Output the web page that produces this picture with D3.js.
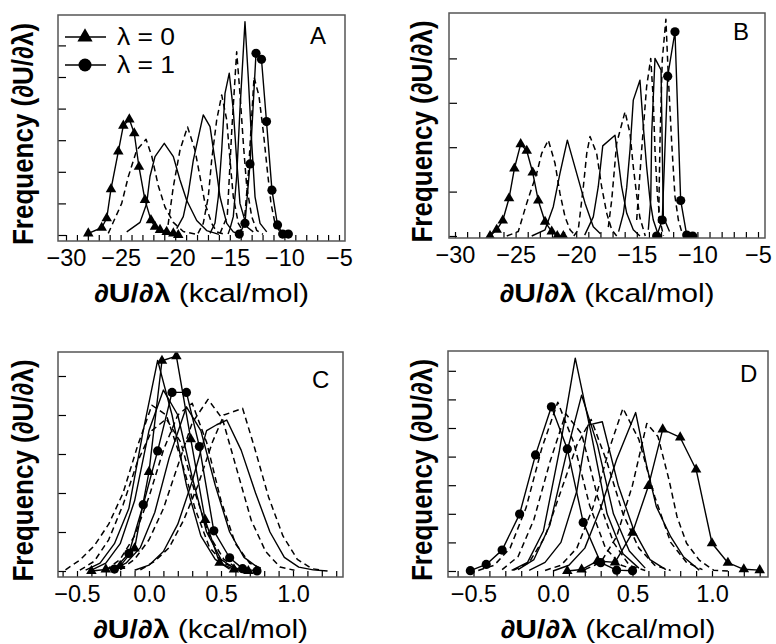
<!DOCTYPE html>
<html>
<head>
<meta charset="utf-8">
<script src="https://cdn.jsdelivr.net/npm/d3@7"></script>
<style>
  body { margin: 0; background: #fff; }
  text { font-family: 'Liberation Sans', Arial, Helvetica, sans-serif; fill: #000; }
</style>
</head>
<body>
<svg id="chart" width="776" height="644"></svg>
<script>
// Coupling parameter of each window; first is drawn with triangles, last with circles.
const lambdas = [0, 0.1, 0.2, 0.3, 0.4, 0.5, 0.6, 0.7, 0.8, 0.9, 1.0];

// Histograms of dU/dlambda per window: [dU/dlambda (kcal/mol), frequency (tick units)]
const histA = [
  [[-27.96,0.05],[-26.73,0.23],[-26.27,0.53],[-25.88,1.45],[-25.21,2.64],[-24.75,3.46],[-24.2,3.66],[-23.75,3.22],[-23.32,2.16],[-22.77,1.11],[-22.22,0.47],[-21.85,0.26],[-21.39,0.16],[-20.78,0.1],[-20.17,0.05],[-19.72,0.0]],
  [[-26.13,0.05],[-24.9,1.0],[-24.29,1.85],[-23.53,2.68],[-22.67,3.03],[-22.15,2.5],[-21.55,1.56],[-20.93,0.88],[-20.17,0.4],[-19.26,0.11],[-18.05,0.02]],
  [[-24.44,0.1],[-23.22,0.4],[-22.61,1.0],[-22.31,1.85],[-21.85,2.48],[-21.0,2.9],[-20.17,2.48],[-19.56,1.74],[-18.95,1.1],[-18.03,0.46],[-17.12,0.14],[-15.99,0.02]],
  [[-21.12,0.05],[-20.66,0.3],[-20.17,1.53],[-19.56,2.69],[-18.87,3.42],[-18.19,2.69],[-17.73,1.85],[-17.27,1.0],[-16.66,0.37],[-16.2,0.1],[-15.44,0.02]],
  [[-19.86,0.2],[-19.26,0.58],[-18.8,1.32],[-18.34,2.37],[-17.43,3.8],[-16.81,3.43],[-16.36,2.37],[-15.9,1.21],[-15.28,0.37],[-14.68,0.1],[-14.07,0.02]],
  [[-17.91,0.05],[-17.43,0.37],[-16.97,1.21],[-16.66,2.37],[-16.2,3.64],[-15.74,4.43],[-15.28,3.64],[-14.98,2.37],[-14.68,1.21],[-14.22,0.37],[-13.76,0.1]],
  [[-16.81,0.05],[-16.36,0.37],[-16.05,1.21],[-15.74,2.69],[-15.44,4.48],[-15.05,5.12],[-14.68,3.96],[-14.37,2.37],[-14.07,1.0],[-13.45,0.26],[-12.85,0.1]],
  [[-15.9,0.05],[-15.23,0.6],[-14.83,3.25],[-14.37,5.8],[-14.07,4.48],[-13.76,2.9],[-13.45,1.53],[-12.99,0.58],[-12.54,0.15],[-11.96,0.02]],
  [[-15.16,0.03],[-14.98,0.2],[-14.68,0.58],[-14.37,1.85],[-14.07,3.96],[-13.61,6.75],[-13.31,5.0],[-12.99,2.9],[-12.69,1.21],[-12.23,0.37],[-11.62,0.1]],
  [[-14.25,0.03],[-13.7,0.3],[-13.29,2.0],[-12.78,5.0],[-12.33,4.4],[-11.91,3.2],[-11.55,2.0],[-11.23,1.0],[-10.86,0.37],[-10.4,0.1],[-9.85,0.02]],
  [[-14.13,0.03],[-13.61,0.37],[-13.15,2.25],[-12.6,5.75],[-12.1,5.56],[-11.64,3.59],[-11.14,1.42],[-10.63,0.32],[-10.16,0.03],[-9.64,0.03]]
];

const histB = [
  [[-27.11,0.0],[-26.56,0.14],[-26.06,0.35],[-25.54,0.85],[-25.1,1.52],[-24.58,2.07],[-24.08,1.92],[-23.59,1.43],[-23.13,0.8],[-22.57,0.32],[-22.02,0.1],[-21.56,0.0],[-21.06,0.0]],
  [[-25.73,0.0],[-24.78,0.1],[-24.08,0.74],[-23.26,1.41],[-22.85,1.86],[-22.3,2.16],[-21.75,1.64],[-21.34,0.96],[-20.92,0.43],[-20.51,0.14],[-20.2,0.05]],
  [[-23.67,0.0],[-22.57,0.14],[-21.89,0.66],[-21.34,1.41],[-20.73,2.16],[-19.96,1.41],[-19.27,0.74],[-18.59,0.21],[-18.0,0.05]],
  [[-20.2,0.0],[-19.83,0.14],[-19.41,1.11],[-19.13,1.86],[-18.86,2.24],[-18.31,1.86],[-17.9,1.11],[-17.48,0.51],[-17.07,0.14],[-16.66,0.0]],
  [[-19.3,0.02],[-18.59,0.43],[-18.18,1.11],[-17.81,2.03],[-16.8,2.27],[-16.53,1.71],[-16.25,1.11],[-15.83,0.51],[-15.29,0.14],[-14.74,0.0]],
  [[-17.35,0.2],[-17.07,0.81],[-16.66,2.09],[-15.97,2.8],[-15.56,2.31],[-15.29,1.56],[-15.0,0.9],[-14.74,0.41],[-14.3,0.0]],
  [[-16.5,0.1],[-16.11,0.5],[-15.83,1.1],[-15.56,1.94],[-15.29,3.06],[-14.74,3.51],[-14.46,2.46],[-14.19,1.56],[-13.91,0.81],[-13.64,0.36],[-13.2,0.0]],
  [[-15.01,0.36],[-14.6,1.94],[-14.19,3.36],[-13.85,4.0],[-13.64,3.06],[-13.5,1.94],[-13.31,0.96],[-13.09,0.36],[-12.8,0.0]],
  [[-14.05,0.14],[-13.85,0.81],[-13.77,2.31],[-13.5,4.0],[-13.0,3.74],[-12.81,0.43],[-12.3,0.1]],
  [[-13.2,0.3],[-13.09,2.09],[-12.9,3.96],[-12.6,4.88],[-12.4,3.59],[-12.12,2.09],[-11.85,0.89],[-11.57,0.36],[-11.3,0.1]],
  [[-13.36,0.0],[-12.9,0.36],[-12.45,3.6],[-11.85,4.6],[-11.38,0.8],[-10.88,0.02],[-10.39,0.0]]
];

const histC = [
  [[-0.40,0.0],[-0.30,0.04],[-0.20,0.13],[-0.10,0.58],[0.0,2.54],[0.09,5.39],[0.19,5.51],[0.29,3.38],[0.39,1.31],[0.49,0.21],[0.59,0.04],[0.69,0.0]],
  [[-0.58,0.03],[-0.48,0.28],[-0.38,0.65],[-0.28,1.2],[-0.18,2.0],[-0.08,3.2],[0.02,4.25],[0.12,4.0],[0.22,2.9],[0.32,1.6],[0.42,0.6],[0.52,0.2],[0.62,0.05]],
  [[-0.44,0.02],[-0.34,0.2],[-0.24,0.7],[-0.14,1.6],[-0.04,3.6],[0.06,5.4],[0.16,4.0],[0.26,2.2],[0.36,0.9],[0.46,0.3],[0.56,0.05]],
  [[-0.48,0.02],[-0.38,0.25],[-0.28,0.8],[-0.18,1.7],[-0.08,2.8],[0.02,3.6],[0.12,3.9],[0.22,3.3],[0.32,2.0],[0.42,0.9],[0.52,0.3],[0.62,0.05]],
  [[-0.40,0.02],[-0.30,0.2],[-0.20,0.7],[-0.10,1.8],[0.0,3.6],[0.1,4.64],[0.2,4.0],[0.3,2.4],[0.4,1.0],[0.5,0.3],[0.6,0.05]],
  [[-0.30,0.02],[-0.20,0.3],[-0.10,0.9],[0.0,1.9],[0.1,3.1],[0.2,4.0],[0.3,4.3],[0.4,3.3],[0.5,1.8],[0.6,0.7],[0.7,0.2],[0.8,0.03]],
  [[-0.26,0.02],[-0.16,0.2],[-0.06,0.6],[0.04,1.5],[0.14,2.9],[0.26,4.21],[0.36,3.6],[0.46,2.2],[0.56,1.0],[0.66,0.35],[0.76,0.08]],
  [[-0.20,0.03],[-0.10,0.3],[0.0,0.8],[0.1,1.6],[0.2,2.7],[0.3,3.8],[0.41,4.4],[0.51,3.9],[0.61,2.6],[0.71,1.3],[0.81,0.5],[0.91,0.1],[1.01,0.02]],
  [[-0.10,0.02],[0.0,0.15],[0.1,0.5],[0.2,1.2],[0.3,2.3],[0.4,3.6],[0.47,3.75],[0.54,3.87],[0.64,3.1],[0.74,2.0],[0.84,1.0],[0.94,0.35],[1.04,0.1],[1.14,0.03],[1.24,0.0]],
  [[-0.06,0.03],[0.04,0.25],[0.14,0.6],[0.24,1.3],[0.34,2.2],[0.44,3.3],[0.52,4.0],[0.65,4.17],[0.73,3.2],[0.83,1.9],[0.93,0.9],[1.03,0.3],[1.13,0.06],[1.2,0.02]],
  [[-0.24,0.05],[-0.14,0.45],[-0.04,1.7],[0.06,3.08],[0.16,4.58],[0.26,4.58],[0.35,3.19],[0.45,1.03],[0.56,0.34],[0.65,0.06],[0.75,0.0]]
];

const histD = [
  [[0.09,0.0],[0.18,0.05],[0.28,0.35],[0.39,0.3],[0.50,1.34],[0.60,2.97],[0.69,4.95],[0.80,4.67],[0.90,3.55],[1.0,0.97],[1.1,0.29],[1.2,0.06],[1.3,0.03]],
  [[0.2,0.05],[0.3,0.3],[0.4,1.2],[0.5,3.0],[0.59,5.16],[0.66,4.7],[0.73,3.18],[0.78,1.9],[0.84,0.97],[0.92,0.38],[1.01,0.03],[1.1,0.0]],
  [[0.0,0.0],[0.1,0.2],[0.2,0.8],[0.3,2.2],[0.4,3.9],[0.52,5.54],[0.59,3.65],[0.65,2.25],[0.74,1.2],[0.82,0.5],[0.92,0.03]],
  [[-0.05,0.02],[0.05,0.2],[0.15,0.8],[0.25,2.2],[0.35,4.2],[0.44,5.69],[0.54,4.6],[0.64,2.6],[0.74,1.0],[0.84,0.3],[0.94,0.05]],
  [[-0.15,0.02],[-0.05,0.3],[0.05,1.0],[0.15,2.8],[0.22,5.1],[0.31,5.22],[0.41,3.0],[0.51,1.4],[0.61,0.4],[0.71,0.05]],
  [[-0.25,0.02],[-0.15,0.3],[-0.05,1.2],[0.05,2.8],[0.15,4.4],[0.24,5.3],[0.34,3.8],[0.44,2.0],[0.54,0.8],[0.64,0.2],[0.74,0.02]],
  [[-0.22,0.05],[-0.12,0.4],[-0.02,1.6],[0.08,4.0],[0.18,6.15],[0.28,4.4],[0.38,2.0],[0.48,0.7],[0.58,0.1]],
  [[-0.32,0.05],[-0.22,0.5],[-0.12,1.8],[-0.02,3.8],[0.08,5.5],[0.18,4.8],[0.28,2.6],[0.38,1.0],[0.48,0.2],[0.58,0.02]],
  [[-0.26,0.02],[-0.16,0.3],[-0.06,1.4],[0.04,4.2],[0.14,7.44],[0.24,4.8],[0.34,2.0],[0.44,0.6],[0.54,0.1]],
  [[-0.47,0.02],[-0.37,0.2],[-0.27,0.8],[-0.17,2.2],[-0.07,4.3],[0.03,5.9],[0.13,4.5],[0.23,2.3],[0.33,0.8],[0.43,0.2],[0.53,0.02]],
  [[-0.52,0.01],[-0.42,0.23],[-0.32,0.73],[-0.21,1.99],[-0.11,4.06],[-0.01,5.74],[0.09,4.27],[0.19,1.7],[0.30,0.29],[0.40,0.03],[0.50,0.01]]
];

const xTicksKcal = [-30, -25, -20, -15, -10, -5];
const xTicksSmall = [-0.5, 0.0, 0.5, 1.0];
const legendLabels = ["\u03bb = 0", "\u03bb = 1"];
const panelLetters = ["A", "B", "C", "D"];

const svg = d3.select("#chart");
const ink = "#000";

// Layout of the four panels: frame box, axis mapping and tick spacing.
const panels = [
  { letter: panelLetters[0], data: histA, box: [58, 15, 345, 241], xDom: [-30, -5], xRng: [66, 339],
    yMax: 6, yRng: [235, 45.4], ticks: xTicksKcal, minor: 1, fmt: d3.format("d"),
    letterPos: [310, 44], yTitleX: 33, xTitleY: 302 },
  { letter: panelLetters[1], data: histB, box: [449, 13, 765, 238], xDom: [-30, -5], xRng: [455, 758],
    yMax: 4, yRng: [236, 58.4], ticks: xTicksKcal, minor: 1, fmt: d3.format("d"),
    letterPos: [733, 40], yTitleX: 432, xTitleY: 302 },
  { letter: panelLetters[2], data: histC, box: [58, 352, 343, 577], xDom: [-0.5, 1.0], xRng: [77, 293],
    yMax: 5, yRng: [571, 376], ticks: xTicksSmall, minor: 0.1, fmt: d3.format(".1f"),
    letterPos: [312, 388], yTitleX: 33, xTitleY: 638 },
  { letter: panelLetters[3], data: histD, box: [448, 351, 768, 577], xDom: [-0.5, 1.0], xRng: [473.5, 712],
    yMax: 7, yRng: [571, 370.8], ticks: xTicksSmall, minor: 0.1, fmt: d3.format(".1f"),
    letterPos: [740, 382], yTitleX: 432, xTitleY: 638 }
];

const triangle = d3.symbol().type(d3.symbolTriangle);
const axisFont = 23.5;

panels.forEach((p) => {
  const [x0, y0, x1, y1] = p.box;
  const x = d3.scaleLinear().domain(p.xDom).range(p.xRng);
  const y = d3.scaleLinear().domain([0, p.yMax]).range(p.yRng);
  const g = svg.append("g");

  const clipId = "clip" + p.letter;
  svg.append("clipPath").attr("id", clipId)
    .append("rect").attr("x", x0).attr("y", y0).attr("width", x1 - x0).attr("height", y1 - y0);

  // minor ticks along the bottom, pointing into the frame
  const lo = x.invert(x0), hi = x.invert(x1);
  const minorTicks = d3.range(Math.ceil(lo / p.minor - 1e-6), Math.floor(hi / p.minor + 1e-6) + 1)
    .map(k => +(k * p.minor).toFixed(4));
  g.append("g")
    .attr("transform", `translate(0,${y1})`)
    .call(d3.axisBottom(x).tickValues(minorTicks).tickSizeInner(-6).tickSizeOuter(0).tickFormat(""))
    .call(a => a.select(".domain").remove())
    .call(a => a.selectAll("line").attr("stroke", ink).attr("stroke-width", 1.2));

  // labelled ticks below the frame
  g.append("g")
    .attr("transform", `translate(0,${y1})`)
    .call(d3.axisBottom(x).tickValues(p.ticks).tickSize(0).tickPadding(8).tickFormat(p.fmt))
    .call(a => a.select(".domain").remove())
    .call(a => a.selectAll("text").attr("font-size", axisFont).attr("fill", ink)
      .attr("font-family", "'Liberation Sans', Arial, sans-serif"));

  // unlabelled frequency ticks on the left edge
  g.append("g")
    .attr("transform", `translate(${x0},0)`)
    .call(d3.axisLeft(y).tickValues(d3.range(0, p.yMax + 1)).tickSizeInner(-8).tickSizeOuter(0).tickFormat(""))
    .call(a => a.select(".domain").remove())
    .call(a => a.selectAll("line").attr("stroke", ink).attr("stroke-width", 1.2));

  // histogram curves: even windows solid, odd windows dashed
  const line = d3.line().x(d => x(d[0])).y(d => y(d[1]));
  const plot = g.append("g").attr("clip-path", `url(#${clipId})`);
  p.data.forEach((pts, i) => {
    plot.append("path")
      .datum(pts)
      .attr("d", line)
      .attr("fill", "none")
      .attr("stroke", ink)
      .attr("stroke-width", i % 2 === 1 ? 1.5 : 1.4)
      .attr("stroke-linejoin", "round")
      .attr("stroke-dasharray", i % 2 === 1 ? "6,4" : null);
  });
  // markers for the end-point windows
  const first = p.data[0], last = p.data[lambdas.length - 1];
  plot.selectAll(".tri").data(first).enter().append("path")
    .attr("d", triangle.size(48))
    .attr("transform", d => `translate(${x(d[0])},${y(d[1])})`)
    .attr("fill", ink);
  plot.selectAll(".dot").data(last).enter().append("circle")
    .attr("cx", d => x(d[0])).attr("cy", d => y(d[1])).attr("r", 4.6)
    .attr("fill", ink);

  // frame
  g.append("rect")
    .attr("x", x0).attr("y", y0).attr("width", x1 - x0).attr("height", y1 - y0)
    .attr("fill", "none").attr("stroke", "#555").attr("stroke-width", 1.5);

  // panel letter
  g.append("text").attr("x", p.letterPos[0]).attr("y", p.letterPos[1])
    .attr("font-size", 24).text(p.letter);

  // axis titles
  const midY = (y0 + y1) / 2;
  g.append("text")
    .attr("transform", `translate(${p.yTitleX},${midY + 6}) scale(1.12,1) rotate(-90)`)
    .attr("text-anchor", "middle").attr("font-size", 26).attr("font-weight", "bold")
    .text("Frequency (\u2202U/\u2202\u03bb)");

  const xt = g.append("text")
    .attr("transform", `translate(${(x0 + x1) / 2},${p.xTitleY}) scale(1.18,1)`)
    .attr("text-anchor", "middle").attr("font-size", 25.5);
  xt.append("tspan").attr("font-weight", "bold").text("\u2202U/\u2202\u03bb");
  xt.append("tspan").text(" (kcal/mol)");
});

// legend for panel A
const legend = svg.append("g");
legendLabels.forEach((lab, i) => {
  const ly = 37 + i * 28;
  legend.append("line").attr("x1", 65).attr("x2", 106).attr("y1", ly).attr("y2", ly)
    .attr("stroke", ink).attr("stroke-width", 1.5);
  if (i === 0) {
    legend.append("path").attr("d", triangle.size(100)).attr("transform", `translate(85,${ly})`).attr("fill", ink);
  } else {
    legend.append("circle").attr("cx", 85).attr("cy", ly).attr("r", 6.5).attr("fill", ink);
  }
  legend.append("text").attr("transform", `translate(117,${ly + 8}) scale(1.08,1)`)
    .attr("font-size", 24.5).text(lab);
});
</script>
</body>
</html>
